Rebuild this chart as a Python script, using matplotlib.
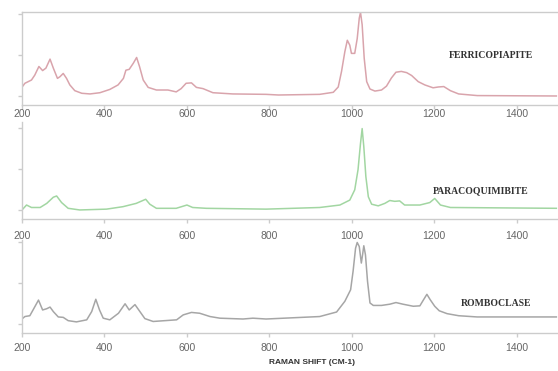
import matplotlib
matplotlib.use("Agg")
import matplotlib.pyplot as plt

# ---- data (Raman shift, relative intensity) ----
ferri_x = [195, 207, 223, 231, 241, 250, 258, 268, 276, 286, 292, 300, 308, 316, 328, 345, 365,
           389, 413, 433, 446, 452, 460, 470, 478, 485, 494, 506, 526, 554, 574, 586, 598, 611,
           623, 639, 663, 711, 792, 822, 922, 955, 967, 975, 983, 989, 995, 999, 1007, 1013,
           1018, 1021, 1025, 1030, 1036, 1044, 1056, 1072, 1084, 1096, 1107, 1120, 1133, 1145,
           1161, 1177, 1197, 1210, 1223, 1239, 1259, 1304, 1496]
ferri_y = [0.073, 0.155, 0.195, 0.255, 0.36, 0.31, 0.34, 0.45, 0.34, 0.215, 0.235, 0.275, 0.215,
           0.135, 0.065, 0.033, 0.025, 0.04, 0.08, 0.135, 0.215, 0.315, 0.325, 0.40, 0.47, 0.36,
           0.195, 0.105, 0.073, 0.073, 0.05, 0.09, 0.155, 0.16, 0.105, 0.09, 0.04, 0.025, 0.02,
           0.012, 0.02, 0.045, 0.11, 0.30, 0.54, 0.68, 0.62, 0.52, 0.52, 0.70, 0.95, 1.02, 0.87,
           0.46, 0.175, 0.085, 0.06, 0.073, 0.12, 0.22, 0.29, 0.30, 0.285, 0.25, 0.175, 0.135,
           0.10, 0.11, 0.115, 0.065, 0.025, 0.005, 0.0]

para_x = [200, 211, 223, 244, 260, 276, 284, 296, 312, 340, 405, 445, 477, 500, 510, 526, 574,
          600, 614, 647, 792, 922, 971, 995, 1007, 1015, 1021, 1025, 1029, 1034, 1040, 1048,
          1064, 1080, 1092, 1104, 1116, 1128, 1165, 1189, 1201, 1215, 1239, 1496]
para_y = [0.0, 0.06, 0.03, 0.03, 0.08, 0.155, 0.17, 0.09, 0.02, 0.0, 0.01, 0.04, 0.08, 0.13,
          0.07, 0.02, 0.02, 0.06, 0.03, 0.02, 0.01, 0.03, 0.06, 0.12, 0.245, 0.49, 0.81, 0.99,
          0.77, 0.405, 0.16, 0.07, 0.05, 0.08, 0.115, 0.105, 0.11, 0.06, 0.06, 0.09, 0.14, 0.06,
          0.03, 0.02]

rombo_x = [195, 207, 219, 229, 240, 250, 260, 268, 276, 288, 300, 312, 332, 357, 369, 379, 388,
           397, 413, 434, 450, 460, 474, 486, 498, 518, 575, 591, 611, 631, 656, 680, 736, 760,
           792, 922, 963, 983, 997, 1003, 1009, 1013, 1018, 1023, 1026, 1029, 1033, 1038, 1044,
           1052, 1072, 1092, 1107, 1124, 1149, 1165, 1174, 1182, 1190, 1201, 1212, 1231, 1259,
           1304, 1496]
rombo_y = [0.04, 0.09, 0.10, 0.19, 0.29, 0.17, 0.185, 0.205, 0.15, 0.085, 0.08, 0.04, 0.025,
           0.05, 0.15, 0.30, 0.17, 0.07, 0.05, 0.13, 0.245, 0.17, 0.235, 0.15, 0.065, 0.03, 0.05,
           0.11, 0.14, 0.13, 0.09, 0.07, 0.06, 0.07, 0.06, 0.09, 0.145, 0.275, 0.415, 0.64, 0.92,
           0.99, 0.94, 0.74, 0.84, 0.95, 0.84, 0.52, 0.255, 0.225, 0.225, 0.24, 0.26, 0.24, 0.215,
           0.22, 0.295, 0.36, 0.295, 0.215, 0.16, 0.125, 0.10, 0.085, 0.085]

names = ["FERRICOPIAPITE", "PARACOQUIMIBITE", "ROMBOCLASE"]
xticks = [200, 400, 600, 800, 1000, 1200, 1400]
yticks = [0, 0.5, 1]

W, H = 558, 371
fig = plt.figure(figsize=(W / 100, H / 100), dpi=100)

# (top_px, bottom_px, ylim, x, y, colour, label centre px, top frame line, label pad)
panels = [
    (12, 105, (-0.11, 1.025), ferri_x, ferri_y, "#d9a4ac", (491, 55), True, 0.0),
    (122, 219, (-0.11, 1.07), para_x, para_y, "#a2d6a2", (481, 191), False, 5.8),
    (240, 333, (-0.11, 1.02), rombo_x, rombo_y, "#a6a6a6", (496, 303), False, 4.4),
]
spine_c = "#cccccc"
for (top, bot, ylim, xs, ys, col, (lx, ly), topline, pad), name in zip(panels, names):
    ax = fig.add_axes([22 / W, (H - bot) / H, (W - 22) / W, (bot - top) / H])
    ax.plot(xs, ys, color=col, lw=1.1, solid_joinstyle="round")
    ax.set_xlim(200, 1500)
    ax.set_ylim(*ylim)
    ax.set_xticks(xticks)
    ax.set_yticks(yticks)
    ax.set_yticklabels([])
    ax.spines["right"].set_visible(False)
    ax.spines["top"].set_visible(topline)
    for s in ["left", "bottom", "top"]:
        ax.spines[s].set_color(spine_c)
        ax.spines[s].set_linewidth(1.0)
    ax.tick_params(axis="both", colors=spine_c, length=3.0, width=1.0, labelcolor="#666666",
                   labelsize=7.5)
    ax.tick_params(axis="x", pad=pad)
    for t in ax.get_xticklabels():
        t.set_family("Liberation Sans")
    ax.patch.set_alpha(0)
    fig.text(lx / W, 1 - ly / H, name, ha="center", va="center", family="Liberation Serif",
             fontweight="bold", fontsize=7, color="#333333")

fig.text(312 / W, 1 - 363 / H, "RAMAN SHIFT (CM-1)", ha="center", va="center",
         family="Liberation Sans", fontweight="bold", fontsize=6, color="#333333")

fig.savefig("out.png", dpi=100)
